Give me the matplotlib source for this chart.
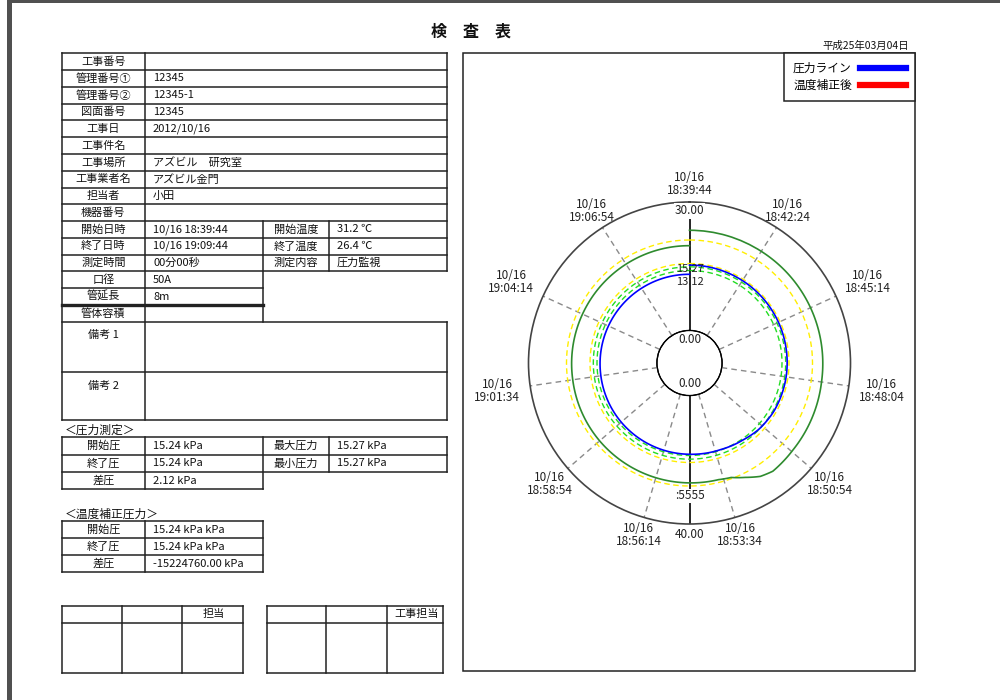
import numpy as np
import matplotlib
matplotlib.use("Agg")
import matplotlib.pyplot as plt
from matplotlib.lines import Line2D
from matplotlib.patches import Rectangle

plt.rcParams['font.family'] = ['Noto Sans CJK JP', 'DejaVu Sans']

# ---------------- data ----------------
title = "検　査　表"
report_date = "平成25年03月04日"

info_labels = ["工事番号", "管理番号①", "管理番号②", "図面番号", "工事日",
               "工事件名", "工事場所", "工事業者名", "担当者", "機器番号"]
info_values = ["", "12345", "12345-1", "12345", "2012/10/16",
               "", "アズビル　研究室", "アズビル金門", "小田", ""]

meas_labels_l = ["開始日時", "終了日時", "測定時間"]
meas_values_l = ["10/16 18:39:44", "10/16 19:09:44", "00分00秒"]
meas_labels_r = ["開始温度", "終了温度", "測定内容"]
meas_values_r = ["31.2 ℃", "26.4 ℃", "圧力監視"]

pipe_labels = ["口径", "管延長", "管体容積"]
pipe_values = ["50A", "8m", ""]
remark_labels = ["備考 1", "備考 2"]

press_title = "＜圧力測定＞"
press_labels_l = ["開始圧", "終了圧", "差圧"]
press_values_l = ["15.24 kPa", "15.24 kPa", "2.12 kPa"]
press_labels_r = ["最大圧力", "最小圧力"]
press_values_r = ["15.27 kPa", "15.27 kPa"]

corr_title = "＜温度補正圧力＞"
corr_labels = ["開始圧", "終了圧", "差圧"]
corr_values = ["15.24 kPa kPa", "15.24 kPa kPa", "-15224760.00 kPa"]

stamp_left = ["", "", "担当"]
stamp_right = ["", "", "工事担当"]

legend_labels = ["圧力ライン", "温度補正後"]

time_labels = ["10/16\n18:39:44", "10/16\n18:42:24", "10/16\n18:45:14", "10/16\n18:48:04",
               "10/16\n18:50:54", "10/16\n18:53:34", "10/16\n18:56:14", "10/16\n18:58:54",
               "10/16\n19:01:34", "10/16\n19:04:14", "10/16\n19:06:54"]
total_seconds = 1800          # one revolution = 30 min

pressure_max = 30.0
temp_max = 40.0

# pressure trace (kPa) vs elapsed seconds
pressure_t = [0, 80, 165, 245, 330, 410, 490, 600, 670, 725, 800, 900, 1145, 1310, 1475, 1635, 1800]
pressure_v = [15.27, 15.28, 15.28, 15.27, 15.25, 15.22, 15.20, 15.10, 14.80, 14.30, 13.90, 13.72,
              13.50, 13.32, 13.22, 13.15, 13.12]

# temperature trace (deg C) vs elapsed seconds
temp_t = [0, 165, 330, 490, 650, 712, 740, 770, 800, 830, 900, 1145, 1310, 1475, 1635, 1800]
temp_v = [31.2, 31.2, 31.3, 31.4, 31.95, 32.4, 31.5, 29.5, 27.8, 27.3, 27.2, 26.9, 26.6, 26.5, 26.45, 26.4]

# alarm band circles (pressure scale)
lime_levels = [14.01, 14.87]
yellow_levels = [15.64, 21.13]

# ---------------- figure ----------------
W, H = 1000, 700
fig = plt.figure(figsize=(10, 7), dpi=100)
bg = fig.add_axes([0, 0, 1, 1])
bg.set_xlim(0, W)
bg.set_ylim(H, 0)
bg.axis('off')

LC = '#222222'
LW = 1.1
FS = 8


def hline(y, x0, x1, lw=LW):
    bg.plot([x0, x1], [y, y], color=LC, lw=lw, solid_capstyle='projecting')


def vline(x, y0, y1, lw=LW):
    bg.plot([x, x], [y0, y1], color=LC, lw=lw, solid_capstyle='projecting')


def label(x, y, s, ha='center', fs=FS, **kw):
    bg.text(x, y, s, ha=ha, va='center', fontsize=fs, color='#111111', **kw)


# page border (print preview)
bg.add_patch(Rectangle((7, 0), W - 7, 3.3, color='#505050', lw=0))
bg.add_patch(Rectangle((7, 0), 4.7, H, color='#505050', lw=0))

# title & date
label(471, 32, title, fs=11.5, fontweight='bold')
label(908.6, 46, report_date, ha='right', fs=7.5)

# ---------------- main info table ----------------
X0, XL, XM, XM2, XR = 61.7, 145, 263, 329, 447
top = 53.3
rh = (321.7 - top) / 16
rows_y = [top + i * rh for i in range(17)]

for i in range(0, 14):
    hline(rows_y[i], X0, XR)
for i in (14, 15):
    hline(rows_y[i], X0, XM, lw=(2.4 if i == 15 else LW))
hline(rows_y[16], X0, XR)
hline(371.7, X0, XR)
hline(420, X0, XR)
vline(X0, top, 420)
vline(XL, top, 420)
vline(XR, top, rows_y[13])
vline(XR, rows_y[16], 420)
vline(XM, rows_y[10], rows_y[16])
vline(XM2, rows_y[10], rows_y[13])

for i, (l, v) in enumerate(zip(info_labels, info_values)):
    yc = (rows_y[i] + rows_y[i + 1]) / 2
    label((X0 + XL) / 2, yc, l)
    label(XL + 8, yc, v, ha='left')
for j in range(3):
    i = 10 + j
    yc = (rows_y[i] + rows_y[i + 1]) / 2
    label((X0 + XL) / 2, yc, meas_labels_l[j])
    label(XL + 8, yc, meas_values_l[j], ha='left')
    label((XM + XM2) / 2, yc, meas_labels_r[j])
    label(XM2 + 8, yc, meas_values_r[j], ha='left')
for j in range(3):
    i = 13 + j
    yc = (rows_y[i] + rows_y[i + 1]) / 2
    label((X0 + XL) / 2, yc, pipe_labels[j])
    label(XL + 8, yc, pipe_values[j], ha='left')
label((X0 + XL) / 2, 335, remark_labels[0])
label((X0 + XL) / 2, 385.5, remark_labels[1])

# ---------------- pressure table ----------------
label(65, 430, press_title, ha='left', fs=8.5)
pt = 437.3
ph = 17.3
py = [pt + i * ph for i in range(4)]
hline(py[0], X0, XR)
hline(py[1], X0, XR)
hline(py[2], X0, XR)
hline(py[3], X0, XM)
vline(X0, py[0], py[3])
vline(XL, py[0], py[3])
vline(XM, py[0], py[3])
vline(XM2, py[0], py[2])
vline(XR, py[0], py[2])
for i in range(3):
    yc = (py[i] + py[i + 1]) / 2
    label((X0 + XL) / 2, yc, press_labels_l[i])
    label(XL + 8, yc, press_values_l[i], ha='left')
for i in range(2):
    yc = (py[i] + py[i + 1]) / 2
    label((XM + XM2) / 2, yc, press_labels_r[i])
    label(XM2 + 8, yc, press_values_r[i], ha='left')

# ---------------- temperature-corrected table ----------------
label(65, 514, corr_title, ha='left', fs=8.5)
ct = 521
chh = 17.1
cy = [ct + i * chh for i in range(4)]
for y in cy:
    hline(y, X0, XM)
vline(X0, cy[0], cy[3])
vline(XL, cy[0], cy[3])
vline(XM, cy[0], cy[3])
for i in range(3):
    yc = (cy[i] + cy[i + 1]) / 2
    label((X0 + XL) / 2, yc, corr_labels[i])
    label(XL + 8, yc, corr_values[i], ha='left')

# ---------------- stamp boxes ----------------
def stamp(xs, heads):
    y0, y1, y2 = 605.7, 622.7, 672.7
    for y in (y0, y1, y2):
        hline(y, xs[0], xs[-1])
    for x in xs:
        vline(x, y0, y2)
    for k, h in enumerate(heads):
        if h:
            label((xs[k] + xs[k + 1]) / 2 + 1.5, 614, h)


stamp([61.7, 122.3, 182.3, 242.7], stamp_left)
stamp([266.7, 326, 386.7, 442.7], stamp_right)

# chart frame
bg.add_patch(Rectangle((463.3, 53.3), 915 - 463.3, 671 - 53.3, fill=False, ec=LC, lw=LW))

# ---------------- polar chart ----------------
cx, cy0, R, r_hole = 689.5, 363, 161, 32.5
rect = [(cx - R) / W, (H - cy0 - R) / H, 2 * R / W, 2 * R / H]
hole = r_hole / R

axp = fig.add_axes(rect, projection='polar', label='pressure')
axt = fig.add_axes(rect, projection='polar', label='temperature')
for ax, rmax in ((axp, pressure_max), (axt, temp_max)):
    ax.set_theta_zero_location('N')
    ax.set_theta_direction(-1)
    ax.set_ylim(0, rmax)
    ax.set_rorigin(-hole * rmax / (1 - hole))
    ax.set_xticks([])
    ax.set_yticks([])
    ax.grid(False)
    ax.patch.set_alpha(0)
    for name, sp in ax.spines.items():
        sp.set_visible(False)
axp.spines['polar'].set_visible(True)
axp.spines['polar'].set_color('#444444')
axp.spines['polar'].set_linewidth(1.2)

full = np.linspace(0, 2 * np.pi, 721)
axp.plot(full, np.zeros_like(full), color='#444444', lw=1.1)

n = len(time_labels)
theta_ticks = [2 * np.pi * i / n for i in range(n)]
for th in theta_ticks[1:]:
    axp.plot([th, th], [0, pressure_max], color='#8a8a8a', lw=1.0, ls=(0, (4, 3)))
axp.plot([0, 0], [0, pressure_max], color='black', lw=1.2)
axp.plot([np.pi, np.pi], [0, pressure_max], color='black', lw=1.2)

# band circles
for lv in yellow_levels:
    axp.plot(full, np.full_like(full, lv), color='#ffee00', lw=1.0, ls=(0, (4, 2.5)))
for lv in lime_levels:
    axp.plot(full, np.full_like(full, lv), color='#22dd22', lw=1.0, ls=(0, (4, 2.5)))


def to_theta(ts):
    return 2 * np.pi * np.asarray(ts, dtype=float) / total_seconds


ln_t, = axt.plot(to_theta(temp_t), temp_v, color='#2e8b2e', lw=1.2)
ln_p, = axp.plot(to_theta(pressure_t), pressure_v, color='#0000ff', lw=1.2)
# let the polar transform draw arcs between the samples
for ln in (ln_t, ln_p):
    ln.get_path()._interpolation_steps = 60

# time labels
for th, lab in zip(theta_ticks, time_labels):
    s, c = np.sin(th), np.cos(th)
    cand = []
    if abs(s) > 1e-6:
        cand.append(27 / abs(s))
    if abs(c) > 1e-6:
        cand.append(12 / abs(c))
    d = 6 + min(cand)
    axp.annotate(lab, xy=(th, pressure_max), xytext=(d * s, d * c), textcoords='offset pixels',
                 ha='center', va='center', fontsize=8.5, linespacing=1.0, color='#222222',
                 annotation_clip=False)

# radial scale labels
tkw = dict(textcoords='offset pixels', ha='center', va='center', fontsize=8.5,
           color='#222222', annotation_clip=False)
axp.annotate(f"{pressure_max:.2f}", xy=(0, pressure_max), xytext=(0, -9),
             bbox=dict(boxstyle='square,pad=0.1', fc='white', ec='none'), **tkw)
axp.annotate("0.00", xy=(0, 0), xytext=(0, -9), **tkw)
axt.annotate("0.00", xy=(np.pi, 0), xytext=(0, 12), **tkw)
axt.annotate(f"{temp_max:.2f}", xy=(np.pi, temp_max), xytext=(0, -10), **tkw)
skw = dict(tkw, fontsize=8)
axp.annotate(f"{pressure_v[0]:.2f}", xy=(0, pressure_v[0]), xytext=(0, -3.5), **skw)
axp.annotate(f"{pressure_v[-1]:.2f}", xy=(0, pressure_v[-1]), xytext=(0, -8), **skw)
axt.annotate(":5555", xy=(np.pi, temp_v[0]), xytext=(0, 0),
             bbox=dict(boxstyle='square,pad=0.05', fc='white', ec='none'), **tkw)

# legend
handles = [Line2D([], [], color='#0000ff', lw=4.5), Line2D([], [], color='#ff0000', lw=4.5)]
leg = fig.legend(handles, legend_labels, loc='upper right',
                 bbox_to_anchor=(915 / W, 1 - 53.3 / H), bbox_transform=fig.transFigure,
                 markerfirst=False, frameon=True, fancybox=False, edgecolor=LC, framealpha=1,
                 fontsize=8.5, handlelength=3.9, handletextpad=0.7, borderaxespad=0,
                 borderpad=0.75, labelspacing=0.35)
leg.get_frame().set_linewidth(LW)

fig.savefig("out.png", dpi=100, facecolor='white')
